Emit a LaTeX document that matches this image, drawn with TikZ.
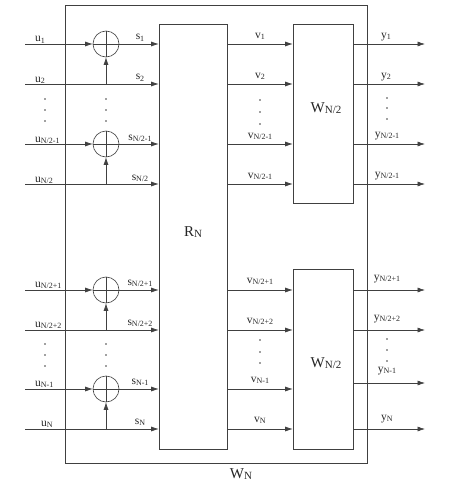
\documentclass[tikz,border=0pt]{standalone}
\usepackage{fontspec}
\setmainfont{Liberation Serif}
\usetikzlibrary{arrows.meta}
\newcommand\lsub[2]{\raisebox{-0.2ex}{\fontsize{#1}{#1}\selectfont #2}}
\newcommand\lab[2]{#1\lsub{8}{#2}}
\begin{document}
\begin{tikzpicture}[x=1pt,y=-1pt,
  ln/.style={draw=black!75,line width=0.6pt},
  arr/.style={ln,-{Latex[length=7.5pt,width=5pt]}},
  blk/.style={draw=black!75,line width=0.6pt,inner sep=0pt,rectangle},
  adder/.style={draw=black!75,line width=0.6pt,circle,inner sep=0pt,minimum size=26pt},
  lbl/.style={inner sep=0pt,text=black!85,font=\fontsize{11.5}{13}\selectfont},
  biglbl/.style={inner sep=0pt,text=black!85,font=\fontsize{15}{17}\selectfont},
  dotm/.style={fill=black!75}
]
\path[use as bounding box] (0,0) rectangle (449,487);

% boxes
\node[blk,minimum width=302pt,minimum height=458pt] (WN) at (216,234) {};
\node[blk,minimum width=68pt,minimum height=425pt] (RN) at (193,236.5) {};
\node[blk,minimum width=60pt,minimum height=179pt] (W1) at (323,113.5) {};
\node[blk,minimum width=60pt,minimum height=180pt] (W2) at (323,359) {};
\node[biglbl] (RNl) at (193,232) {R\lsub{11}{N}};
\node[biglbl] (W1l) at (326,108) {W\lsub{11}{N/2}};
\node[biglbl] (W2l) at (326,363) {W\lsub{11}{N/2}};
\node[biglbl] (WNl) at (241,474) {W\lsub{11}{N}};

% adders
\foreach \n/\y in {1/44,3/144,5/290,7/389}{
  \node[adder] (c\n) at (106,\y) {};
  \draw[ln] (c\n.west) -- (c\n.east);
  \draw[ln] (c\n.north) -- (c\n.south);
}

% input coordinates
\foreach \n/\y in {1/44,2/84,3/144,4/184,5/290,6/330,7/389,8/429}{
  \coordinate (in\n) at (25,\y);
}
\foreach \n/\y in {2/84,4/184,6/330,8/429}{
  \coordinate (j\n) at (106,\y);
}
% output coordinates
\coordinate (o1) at (425,44);
\coordinate (o2) at (425,84);
\coordinate (o3) at (425,144);
\coordinate (o4) at (425,184);
\coordinate (o5) at (425,290);
\coordinate (o6) at (425,330);
\coordinate (o7) at (425,383);
\coordinate (o8) at (425,429);

% adder rows
\foreach \n in {1,3,5,7}{
  \draw[arr] (in\n) -- (c\n.west);
  \draw[arr] (c\n.east) -- (c\n.east -| RN.west);
}
% pass rows
\draw[arr] (in2) -- (in2 -| RN.west);
\draw[arr] (in4) -- (in4 -| RN.west);
\draw[arr] (in6) -- (in6 -| RN.west);
\draw[arr] (in8) -- (in8 -| RN.west);
\draw[arr] (j2) -- (c1.south);
\draw[arr] (j4) -- (c3.south);
\draw[arr] (j6) -- (c5.south);
\draw[arr] (j8) -- (c7.south);

% RN -> W
\foreach \n in {1,2,3,4}{
  \draw[arr] (RN.east |- in\n) -- (W1.west |- in\n);
}
\foreach \n in {5,6,7,8}{
  \draw[arr] (RN.east |- in\n) -- (W2.west |- in\n);
}
% outputs
\foreach \n in {1,2,3,4}{
  \draw[arr] (W1.east |- o\n) -- (o\n);
}
\foreach \n in {5,6,7,8}{
  \draw[arr] (W2.east |- o\n) -- (o\n);
}

% u labels
\node[lbl,anchor=base west] (u1) at (35,42) {\lab{u}{1}};
\node[lbl,anchor=base west] (u2) at (35,82) {\lab{u}{2}};
\node[lbl,anchor=base west] (u3) at (35,142) {\lab{u}{N/2-1}};
\node[lbl,anchor=base west] (u4) at (35,182) {\lab{u}{N/2}};
\node[lbl,anchor=base west] (u5) at (35,287) {\lab{u}{N/2+1}};
\node[lbl,anchor=base west] (u6) at (35,327) {\lab{u}{N/2+2}};
\node[lbl,anchor=base west] (u7) at (35,386) {\lab{u}{N-1}};
\node[lbl,anchor=base west] (u8) at (41,426) {\lab{u}{N}};
% s labels
\node[lbl,anchor=base] (s1) at (140,40) {\lab{s}{1}};
\node[lbl,anchor=base] (s2) at (140,80) {\lab{s}{2}};
\node[lbl,anchor=base] (s3) at (140,140) {\lab{s}{N/2-1}};
\node[lbl,anchor=base] (s4) at (140,180) {\lab{s}{N/2}};
\node[lbl,anchor=base] (s5) at (140,285) {\lab{s}{N/2+1}};
\node[lbl,anchor=base] (s6) at (140,325) {\lab{s}{N/2+2}};
\node[lbl,anchor=base] (s7) at (140,384) {\lab{s}{N-1}};
\node[lbl,anchor=base] (s8) at (140,424) {\lab{s}{N}};
% v labels
\node[lbl,anchor=base] (v1) at (260,38) {\lab{v}{1}};
\node[lbl,anchor=base] (v2) at (260,78) {\lab{v}{2}};
\node[lbl,anchor=base] (v3) at (260,138) {\lab{v}{N/2-1}};
\node[lbl,anchor=base] (v4) at (260,178) {\lab{v}{N/2-1}};
\node[lbl,anchor=base] (v5) at (260,283) {\lab{v}{N/2+1}};
\node[lbl,anchor=base] (v6) at (260,323) {\lab{v}{N/2+2}};
\node[lbl,anchor=base] (v7) at (260,382) {\lab{v}{N-1}};
\node[lbl,anchor=base] (v8) at (260,422) {\lab{v}{N}};
% y labels
\node[lbl,anchor=base] (y1) at (386,38) {\lab{y}{1}};
\node[lbl,anchor=base] (y2) at (386,78) {\lab{y}{2}};
\node[lbl,anchor=base] (y3) at (387,137) {\lab{y}{N/2-1}};
\node[lbl,anchor=base] (y4) at (387,177) {\lab{y}{N/2-1}};
\node[lbl,anchor=base] (y5) at (387,280) {\lab{y}{N/2+1}};
\node[lbl,anchor=base] (y6) at (387,320) {\lab{y}{N/2+2}};
\node[lbl,anchor=base] (y7) at (387,372) {\lab{y}{N-1}};
\node[lbl,anchor=base] (y8) at (387,420) {\lab{y}{N}};

% dots
\foreach \x in {45,106}{
  \foreach \y in {99,110,121,344,355,366}{
    \fill[dotm] (\x,\y) circle (0.8);
  }
}
\foreach \y in {100,112,124,340,352,363}{
  \fill[dotm] (260,\y) circle (0.8);
}
\foreach \y in {98,108,119,339,350,361}{
  \fill[dotm] (387,\y) circle (0.8);
}
\end{tikzpicture}
\end{document}
